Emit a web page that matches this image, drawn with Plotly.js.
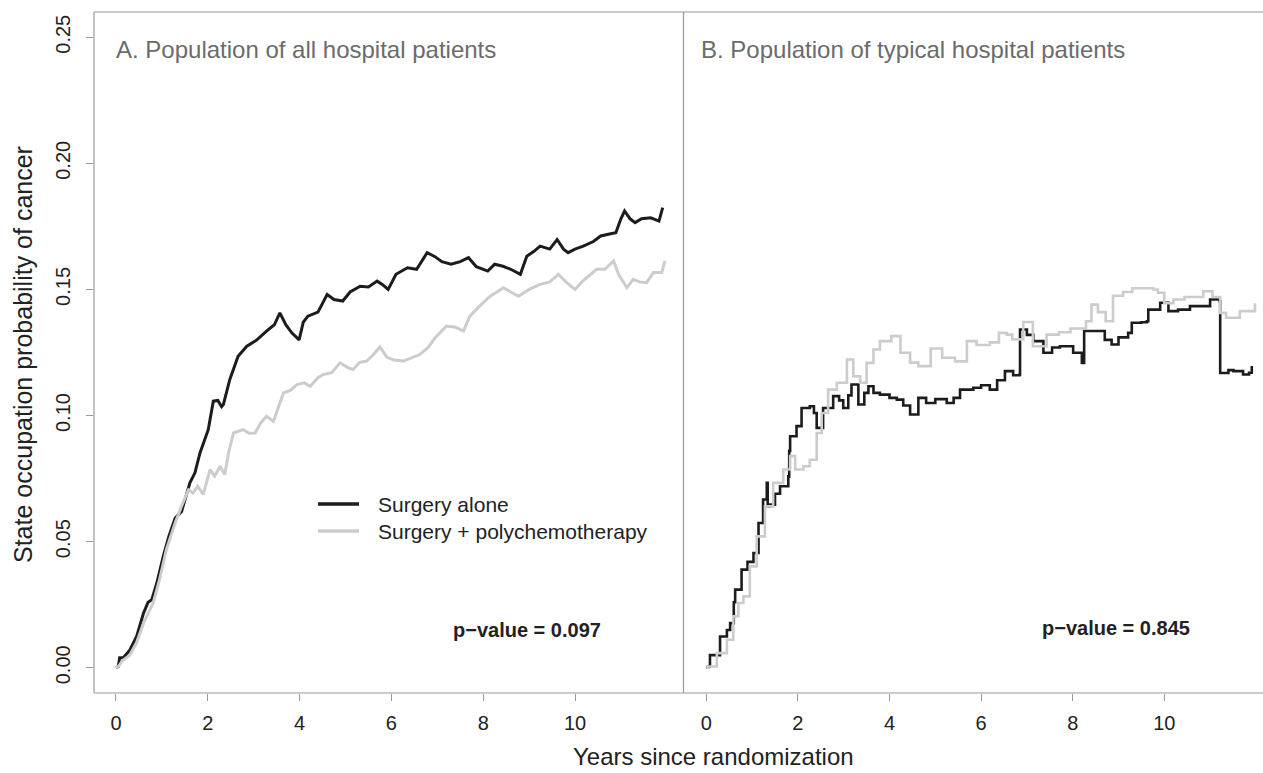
<!DOCTYPE html>
<html>
<head>
<meta charset="utf-8">
<script src="https://cdn.plot.ly/plotly-3.0.1.min.js"></script>
<style>
html,body{margin:0;padding:0;background:#fff;}
#chart{width:1263px;height:773px;}
</style>
</head>
<body>
<div id="chart"></div>
<script>
// ---------- data ----------
const seriesNames = ["Surgery alone", "Surgery + polychemotherapy"];
const panelTitles = ["A. Population of all hospital patients", "B. Population of typical hospital patients"];
const pValues = ["p\u2212value = 0.097", "p\u2212value = 0.845"];
const xTicks = [0, 2, 4, 6, 8, 10];
const yTicks = [0.00, 0.05, 0.10, 0.15, 0.20, 0.25];
const yTickLabels = ["0.00", "0.05", "0.10", "0.15", "0.20", "0.25"];

// Panel A, surgery alone
const aAloneT = [0,0.05,0.08,0.16,0.30,0.45,0.6,0.7,0.78,0.89,1.03,1.15,1.29,1.43,1.61,1.72,1.83,2.01,2.12,2.22,2.3,2.34,2.48,2.66,2.85,3.07,3.28,3.45,3.57,3.7,3.83,3.99,4.08,4.18,4.4,4.6,4.75,4.94,5.1,5.32,5.5,5.69,5.8,5.93,6.1,6.35,6.55,6.78,6.95,7.1,7.3,7.5,7.68,7.85,8.1,8.25,8.43,8.6,8.81,8.95,9.1,9.24,9.45,9.61,9.75,9.85,10.0,10.18,10.4,10.56,10.75,10.89,11.0,11.08,11.2,11.31,11.45,11.65,11.83,11.91];
const aAloneV = [0,0.0005,0.004,0.004,0.007,0.0124,0.0217,0.026,0.027,0.0336,0.0442,0.052,0.0594,0.062,0.0733,0.0773,0.0852,0.0944,0.1057,0.106,0.1035,0.1044,0.1143,0.1235,0.1275,0.130,0.1335,0.136,0.1407,0.136,0.1328,0.130,0.137,0.1394,0.141,0.148,0.146,0.1454,0.149,0.1513,0.151,0.1533,0.152,0.150,0.156,0.1586,0.158,0.1646,0.163,0.161,0.160,0.161,0.1626,0.159,0.1573,0.160,0.1592,0.158,0.156,0.1632,0.165,0.1672,0.166,0.1698,0.166,0.1646,0.166,0.1672,0.169,0.1712,0.172,0.1725,0.178,0.1811,0.178,0.1765,0.178,0.1784,0.1771,0.1824];

// Panel A, surgery + polychemotherapy
const aChemoT = [0,0.05,0.15,0.3,0.45,0.6,0.81,0.95,1.1,1.3,1.45,1.58,1.68,1.78,1.9,2.05,2.15,2.27,2.37,2.45,2.56,2.77,2.9,3.03,3.15,3.28,3.43,3.55,3.65,3.8,3.94,4.1,4.23,4.4,4.52,4.7,4.88,5.05,5.17,5.3,5.46,5.6,5.75,5.9,6.05,6.26,6.45,6.62,6.8,6.95,7.2,7.4,7.57,7.71,7.9,8.15,8.3,8.44,8.6,8.77,9.0,9.24,9.45,9.64,9.8,10.0,10.15,10.29,10.47,10.65,10.84,10.95,11.13,11.27,11.4,11.56,11.71,11.89,11.96];
const aChemoV = [0,0.0005,0.003,0.005,0.010,0.0177,0.0257,0.035,0.047,0.058,0.065,0.0706,0.0693,0.072,0.0687,0.0786,0.076,0.0799,0.0766,0.085,0.0931,0.0944,0.093,0.0931,0.097,0.0997,0.0977,0.104,0.109,0.110,0.1123,0.113,0.1116,0.115,0.1163,0.117,0.1209,0.119,0.1183,0.121,0.1216,0.124,0.1272,0.1232,0.122,0.1216,0.123,0.1242,0.127,0.1308,0.1355,0.135,0.1335,0.1394,0.143,0.1473,0.149,0.1507,0.149,0.1473,0.150,0.152,0.153,0.156,0.153,0.150,0.153,0.1553,0.158,0.158,0.1613,0.156,0.1507,0.154,0.153,0.1527,0.1567,0.1567,0.1613];

// Panel B, surgery alone
const bAloneT = [0,0.04,0.08,0.26,0.3,0.45,0.52,0.6,0.63,0.77,0.9,1.03,1.14,1.24,1.32,1.34,1.39,1.5,1.61,1.79,1.81,1.83,1.97,2.08,2.26,2.35,2.41,2.55,2.77,2.9,2.99,3.1,3.17,3.32,3.45,3.54,3.65,3.79,4.0,4.16,4.3,4.45,4.63,4.8,5.0,5.25,5.4,5.54,5.83,6.0,6.19,6.35,6.52,6.7,6.84,6.85,7.0,7.14,7.36,7.55,7.72,8.01,8.2,8.24,8.25,8.52,8.7,8.85,9.0,9.21,9.29,9.5,9.62,9.65,9.91,10.09,10.3,10.56,10.93,11.0,11.21,11.22,11.4,11.51,11.72,11.85,11.91];
const bAloneV = [0,0.0005,0.005,0.005,0.0124,0.015,0.0177,0.026,0.031,0.0389,0.042,0.0455,0.0574,0.0667,0.0733,0.064,0.0647,0.069,0.072,0.0759,0.086,0.0918,0.0958,0.103,0.1037,0.101,0.0951,0.103,0.1077,0.106,0.103,0.108,0.1123,0.1044,0.109,0.1116,0.109,0.1083,0.107,0.1063,0.104,0.1004,0.107,0.105,0.1065,0.105,0.107,0.1103,0.111,0.112,0.1103,0.114,0.1176,0.116,0.1163,0.1341,0.132,0.1295,0.1249,0.127,0.1275,0.1249,0.1209,0.1209,0.1335,0.1335,0.130,0.1282,0.131,0.1328,0.1368,0.137,0.1374,0.142,0.1447,0.1414,0.142,0.1434,0.1434,0.146,0.1453,0.1169,0.118,0.1176,0.1163,0.117,0.1196];

// Panel B, surgery + polychemotherapy
const bChemoT = [0,0.04,0.23,0.45,0.59,0.7,0.81,0.95,1.1,1.28,1.46,1.68,1.83,1.94,2.12,2.26,2.41,2.52,2.66,2.85,3.07,3.21,3.36,3.5,3.65,3.79,4.04,4.24,4.45,4.63,4.9,5.15,5.43,5.69,5.9,6.19,6.39,6.56,6.68,6.92,7.13,7.43,7.7,7.95,8.29,8.41,8.55,8.72,8.88,9.1,9.3,9.65,9.76,9.86,10.0,10.2,10.44,10.85,11.05,11.22,11.35,11.58,11.65,11.91,11.98];
const bChemoV = [0,0.0005,0.0058,0.0111,0.0204,0.0257,0.0283,0.0402,0.0521,0.064,0.0733,0.0786,0.0839,0.0786,0.0799,0.0825,0.0931,0.101,0.1103,0.113,0.1222,0.1156,0.113,0.1209,0.1262,0.1295,0.1315,0.1249,0.121,0.1196,0.1266,0.1229,0.1215,0.1295,0.128,0.129,0.1328,0.1321,0.1302,0.1371,0.1275,0.1321,0.133,0.1345,0.1374,0.144,0.141,0.1374,0.1475,0.149,0.1505,0.1505,0.150,0.1487,0.1445,0.146,0.147,0.1493,0.147,0.1407,0.1388,0.1388,0.1414,0.1414,0.1445];

// ---------- layout helpers ----------
const W = 1263, H = 773;
const px = x => x / W;
const py = y => 1 - y / H;
const FONT = "Liberation Sans, Arial, Helvetica, sans-serif";
const BLACK = "#1c1c1c", GREY = "#cccccc", BOX = "#9a9a9a";

function trace(t, v, name, color, xa, width, shape) {
  return {x: t, y: v, name: name, type: "scatter", mode: "lines",
    line: {color: color, width: width, shape: shape},
    xaxis: xa, yaxis: "y", showlegend: false, hoverinfo: "skip"};
}

const data = [
  trace(aAloneT, aAloneV, seriesNames[0], BLACK, "x", 3, "linear"),
  trace(aChemoT, aChemoV, seriesNames[1], GREY, "x", 3, "linear"),
  trace(bAloneT, bAloneV, seriesNames[0], BLACK, "x2", 2.6, "hv"),
  trace(bChemoT, bChemoV, seriesNames[1], GREY, "x2", 2.6, "hv")
];

const xCommon = {
  tickmode: "array", tickvals: xTicks, ticktext: xTicks.map(String),
  ticks: "outside", ticklen: 7, tickwidth: 1, tickcolor: BOX,
  showline: false, showgrid: false, zeroline: false,
  tickfont: {family: FONT, size: 20, color: "#222"},
  ticklabelstandoff: 5, anchor: "y"
};

const layout = {
  width: W, height: H,
  margin: {l: 0, r: 0, t: 0, b: 0},
  paper_bgcolor: "#fff", plot_bgcolor: "#fff",
  showlegend: false,
  font: {family: FONT, color: "#222"},
  xaxis: Object.assign({}, xCommon, {domain: [px(94), px(683)], range: [-0.479, 12.353]}),
  xaxis2: Object.assign({}, xCommon, {domain: [px(684), 1], range: [-0.487, 12.155]}),
  yaxis: {
    domain: [py(693), py(12)], range: [-0.01, 0.26],
    tickmode: "array", tickvals: yTicks, ticktext: yTickLabels,
    ticks: "outside", ticklen: 7, tickwidth: 1, tickcolor: BOX,
    tickangle: -90, ticklabelstandoff: 8,
    showline: false, showgrid: false, zeroline: false,
    tickfont: {family: FONT, size: 20, color: "#222"}
  },
  shapes: [
    // box lines
    {type: "line", xref: "paper", yref: "paper", x0: px(94), x1: 1, y0: py(12), y1: py(12), line: {color: BOX, width: 1.2}},
    {type: "line", xref: "paper", yref: "paper", x0: px(94), x1: 1, y0: py(693), y1: py(693), line: {color: BOX, width: 1.2}},
    {type: "line", xref: "paper", yref: "paper", x0: px(94), x1: px(94), y0: py(12), y1: py(693), line: {color: BOX, width: 1.2}},
    {type: "line", xref: "paper", yref: "paper", x0: px(683.5), x1: px(683.5), y0: py(12), y1: py(693), line: {color: BOX, width: 1.2}},
    // legend keys
    {type: "line", xref: "paper", yref: "paper", x0: px(318), x1: px(359), y0: py(504), y1: py(504), line: {color: BLACK, width: 3.5}},
    {type: "line", xref: "paper", yref: "paper", x0: px(318), x1: px(359), y0: py(531), y1: py(531), line: {color: GREY, width: 3.5}}
  ],
  annotations: [
    {text: panelTitles[0], xref: "paper", yref: "paper", x: px(114), y: py(50), xanchor: "left", yanchor: "middle", showarrow: false,
      font: {family: FONT, size: 24, color: "#6b6b6b"}},
    {text: panelTitles[1], xref: "paper", yref: "paper", x: px(699), y: py(50), xanchor: "left", yanchor: "middle", showarrow: false,
      font: {family: FONT, size: 24, color: "#6b6b6b"}},
    {text: seriesNames[0], xref: "paper", yref: "paper", x: px(376), y: py(504), xanchor: "left", yanchor: "middle", showarrow: false,
      font: {family: FONT, size: 21, color: "#222"}},
    {text: seriesNames[1], xref: "paper", yref: "paper", x: px(376), y: py(531), xanchor: "left", yanchor: "middle", showarrow: false,
      font: {family: FONT, size: 21, color: "#222"}},
    {text: "<b>" + pValues[0] + "</b>", xref: "paper", yref: "paper", x: px(527), y: py(630), xanchor: "center", yanchor: "middle", showarrow: false,
      font: {family: FONT, size: 20, color: "#222"}},
    {text: "<b>" + pValues[1] + "</b>", xref: "paper", yref: "paper", x: px(1116), y: py(628), xanchor: "center", yanchor: "middle", showarrow: false,
      font: {family: FONT, size: 20, color: "#222"}},
    {text: "Years since randomization", xref: "paper", yref: "paper", x: px(713), y: py(756), xanchor: "center", yanchor: "middle", showarrow: false,
      font: {family: FONT, size: 24, color: "#222"}},
    {text: "State occupation probability of cancer", xref: "paper", yref: "paper", x: px(23), y: py(355), xanchor: "center", yanchor: "middle", showarrow: false, textangle: -90,
      font: {family: FONT, size: 25, color: "#222"}}
  ]
};

Plotly.newPlot("chart", data, layout, {displayModeBar: false, staticPlot: true});
</script>
</body>
</html>
